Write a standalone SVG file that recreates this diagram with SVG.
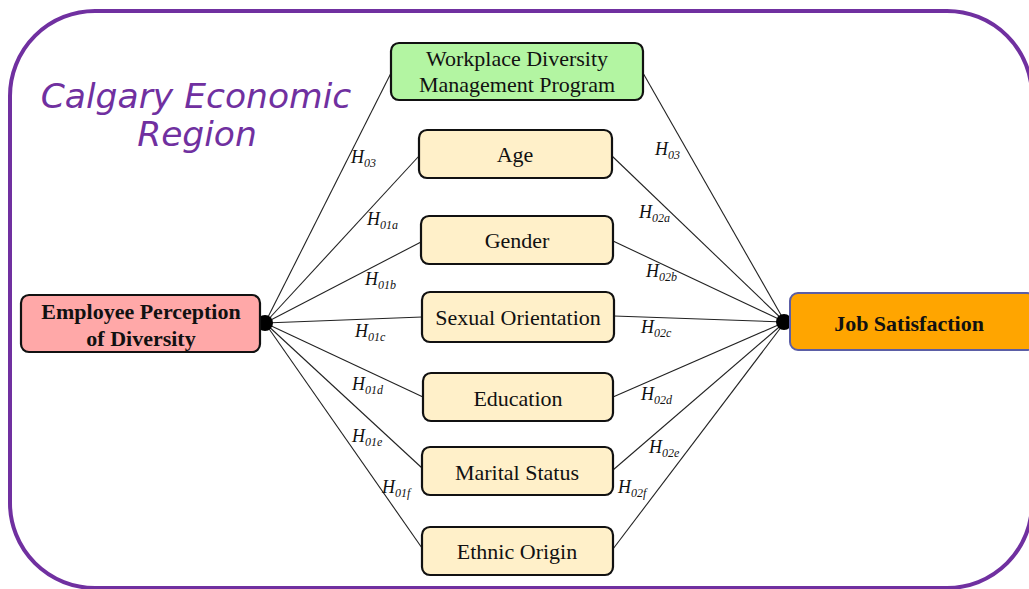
<svg xmlns="http://www.w3.org/2000/svg" width="1029" height="589" viewBox="0 0 1029 589">
<style>
.frame{fill:none;stroke:#7030A0;stroke-width:4}
.title{font-family:"DejaVu Sans","Liberation Sans",sans-serif;font-style:italic;font-size:34.5px;fill:#7030A0;text-anchor:middle}
.box{stroke:#111;stroke-width:2.2}
.var{fill:#FFF0C9}
.lbl{font-family:"Liberation Serif",serif;font-size:22px;fill:#111;text-anchor:middle}
.bold{font-weight:bold}
.conn line{stroke:#222;stroke-width:1.1}
.hub{fill:#000}
.h{font-family:"Liberation Serif",serif;font-style:italic;font-size:18px;fill:#111}
.s{font-size:12px}
</style>
<rect class="frame" x="10" y="11" width="1022" height="577" rx="85" ry="85"/>
<g id="title">
<text class="title" x="196" y="108">Calgary Economic</text>
<text class="title" x="197" y="146">Region</text>
</g>
<g id="connectors" class="conn">
<line x1="265" y1="323" x2="391" y2="73"/>
<line x1="265" y1="323" x2="419" y2="156"/>
<line x1="265" y1="323" x2="421" y2="242"/>
<line x1="265" y1="323" x2="422" y2="317"/>
<line x1="265" y1="323" x2="423" y2="397"/>
<line x1="265" y1="323" x2="422" y2="468"/>
<line x1="265" y1="323" x2="422" y2="548"/>
<line x1="785" y1="322" x2="643" y2="73"/>
<line x1="785" y1="322" x2="612" y2="156"/>
<line x1="785" y1="322" x2="613" y2="241"/>
<line x1="785" y1="322" x2="614" y2="316"/>
<line x1="785" y1="322" x2="613" y2="397"/>
<line x1="785" y1="322" x2="613" y2="470"/>
<line x1="785" y1="322" x2="613" y2="549"/>
<circle class="hub" cx="265" cy="323" r="8"/>
<circle class="hub" cx="784" cy="322" r="8"/>
</g>
<g id="labels">
<text class="h" x="351" y="163">H<tspan class="s" dy="4">03</tspan></text>
<text class="h" x="367" y="225">H<tspan class="s" dy="4">01a</tspan></text>
<text class="h" x="365" y="285">H<tspan class="s" dy="4">01b</tspan></text>
<text class="h" x="355" y="337">H<tspan class="s" dy="4">01c</tspan></text>
<text class="h" x="352" y="390">H<tspan class="s" dy="4">01d</tspan></text>
<text class="h" x="352" y="442">H<tspan class="s" dy="4">01e</tspan></text>
<text class="h" x="382" y="493">H<tspan class="s" dy="4">01f</tspan></text>
<text class="h" x="655" y="155">H<tspan class="s" dy="4">03</tspan></text>
<text class="h" x="639" y="218">H<tspan class="s" dy="4">02a</tspan></text>
<text class="h" x="646" y="277">H<tspan class="s" dy="4">02b</tspan></text>
<text class="h" x="641" y="333">H<tspan class="s" dy="4">02c</tspan></text>
<text class="h" x="641" y="400">H<tspan class="s" dy="4">02d</tspan></text>
<text class="h" x="649" y="453">H<tspan class="s" dy="4">02e</tspan></text>
<text class="h" x="618" y="493">H<tspan class="s" dy="4">02f</tspan></text>
</g>
<g id="node-wdmp">
<rect class="box" x="391" y="43" width="252" height="57" rx="8" fill="#B3F5A2"/>
<text class="lbl" x="517" y="66">Workplace Diversity</text>
<text class="lbl" x="517" y="92">Management Program</text>
</g>
<g id="node-age">
<rect class="box var" x="419" y="130" width="193" height="48" rx="8"/>
<text class="lbl" x="515" y="162">Age</text>
</g>
<g id="node-gender">
<rect class="box var" x="421" y="216" width="192" height="48" rx="8"/>
<text class="lbl" x="517" y="248">Gender</text>
</g>
<g id="node-sexual">
<rect class="box var" x="422" y="292" width="192" height="50" rx="8"/>
<text class="lbl" x="518" y="325">Sexual Orientation</text>
</g>
<g id="node-education">
<rect class="box var" x="423" y="373" width="190" height="48" rx="8"/>
<text class="lbl" x="518" y="406">Education</text>
</g>
<g id="node-marital">
<rect class="box var" x="422" y="447" width="191" height="48" rx="8"/>
<text class="lbl" x="517" y="480">Marital Status</text>
</g>
<g id="node-ethnic">
<rect class="box var" x="422" y="527" width="191" height="48" rx="8"/>
<text class="lbl" x="517" y="559">Ethnic Origin</text>
</g>
<g id="node-epd">
<rect class="box" x="21" y="295" width="239" height="57" rx="8" fill="#FFA8A8"/>
<text class="lbl bold" x="141" y="319">Employee Perception</text>
<text class="lbl bold" x="141" y="346">of Diversity</text>
</g>
<g id="node-js">
<rect x="790" y="293" width="245" height="57" rx="8" fill="#FFA500" stroke="#5B5EA6" stroke-width="2"/>
<text class="lbl bold" x="909" y="331">Job Satisfaction</text>
</g>
</svg>
